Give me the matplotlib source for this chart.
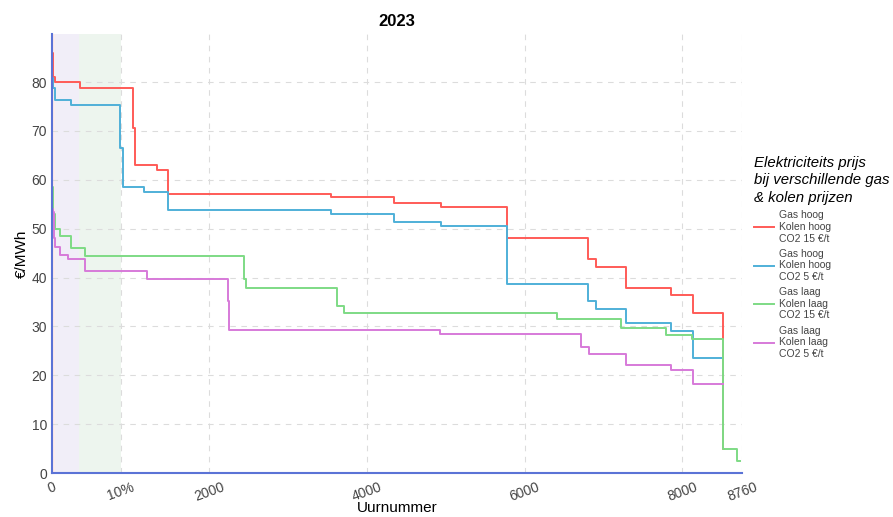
import numpy as np
import matplotlib.pyplot as plt

plt.rcParams['font.family'] = ['Liberation Sans', 'DejaVu Sans']

# step starts (uurnummer) and prices (EUR/MWh)
x_rood = [0, 19, 38, 356, 1029, 1054, 1333, 1473, 3543, 4343, 4940, 5774, 6806, 6908, 7289, 7860, 8136, 8524, 8530]
y_rood = [86, 81, 80, 78.7, 70.5, 63.0, 62.1, 57.0, 56.4, 55.3, 54.5, 48.0, 43.7, 42.2, 37.8, 36.5, 32.8, 4.9, 4.9]

x_blauw = [0, 19, 38, 250, 864, 900, 1168, 1473, 3543, 4343, 4940, 5774, 6806, 6908, 7289, 7860, 8136, 8524]
y_blauw = [80.8, 78.7, 76.3, 75.2, 66.4, 58.5, 57.5, 53.9, 53.1, 51.3, 50.6, 38.6, 35.2, 33.5, 30.6, 29.0, 23.6, 23.6]

x_groen = [0, 9, 20, 38, 102, 250, 419, 2442, 2463, 3615, 3712, 6409, 7222, 7793, 8123, 8517, 8694, 8737]
y_groen = [58.5, 58, 53, 50.0, 48.5, 46.0, 44.4, 39.7, 37.8, 34.2, 32.8, 31.6, 29.6, 28.2, 27.4, 4.9, 2.5, 2.5]

x_paars = [0, 13, 25, 38, 102, 203, 419, 1206, 2235, 2248, 4927, 6717, 6819, 7289, 7860, 8136, 8517]
y_paars = [54, 53.4, 48, 46.3, 44.6, 43.7, 41.3, 39.7, 35.2, 29.2, 28.4, 25.8, 24.3, 22.2, 21.1, 18.3, 18.3]

labels = ["Gas hoog\nKolen hoog\nCO2 15 €/t",
          "Gas hoog\nKolen hoog\nCO2 5 €/t",
          "Gas laag\nKolen laag\nCO2 15 €/t",
          "Gas laag\nKolen laag\nCO2 5 €/t"]
kleuren = ["#ff5b57", "#4fb0d8", "#7edb85", "#d77ad9"]

xticks = [0, 876, 2000, 4000, 6000, 8000, 8760]
xticklabels = ["0", "10%", "2000", "4000", "6000", "8000", "8760"]

fig = plt.figure(figsize=(8.93, 5.17), dpi=100)
ax = fig.add_axes([0.058, 0.085, 0.773, 0.849])

# achtergrond banden
ax.axvspan(0, 44, color="#fdecec", lw=0)
ax.axvspan(44, 350, color="#f1eef8", lw=0)
ax.axvspan(350, 876, color="#edf5ee", lw=0)

reeksen = [(x_rood, y_rood), (x_blauw, y_blauw), (x_groen, y_groen), (x_paars, y_paars)]
for (xs, ys), lab, k in zip(reeksen, labels, kleuren):
    ax.step(xs, ys, where="post", color=k, lw=1.4, label=lab)

ax.set_xlim(0, 8760)
ax.set_ylim(0, 89.8)
ax.set_yticks(np.arange(0, 81, 10))
ax.set_xticks(xticks)
ax.set_xticklabels(xticklabels, rotation=20)
ax.tick_params(length=0, labelsize=10, colors="#444444")
ax.tick_params(axis="x", pad=5)

ax.grid(True, ls=(0, (5, 5)), color="#dcdcdc", lw=0.8)
for s in ["top", "right"]:
    ax.spines[s].set_visible(False)
for s in ["left", "bottom"]:
    ax.spines[s].set_color("#5b73d6")
    ax.spines[s].set_linewidth(1.5)

ax.set_title("2023", fontweight="bold", fontsize=12, pad=6)
ax.set_ylabel("€/MWh", fontsize=11, labelpad=2)
ax.set_xlabel("Uurnummer", fontsize=11, labelpad=-2)

leg = ax.legend(title="Elektriciteits prijs\nbij verschillende gas\n& kolen prijzen",
                loc="upper left", bbox_to_anchor=(1.006, 0.74), frameon=False,
                fontsize=7.5, handlelength=2, handletextpad=0.4, labelspacing=0.5,
                alignment="left", borderaxespad=0.3)
leg.get_title().set_fontstyle("italic")
leg.get_title().set_fontsize(10.8)
leg.get_title().set_linespacing(1.35)
for t in leg.get_texts():
    t.set_color("#444444")

fig.savefig("out.png", dpi=100)
